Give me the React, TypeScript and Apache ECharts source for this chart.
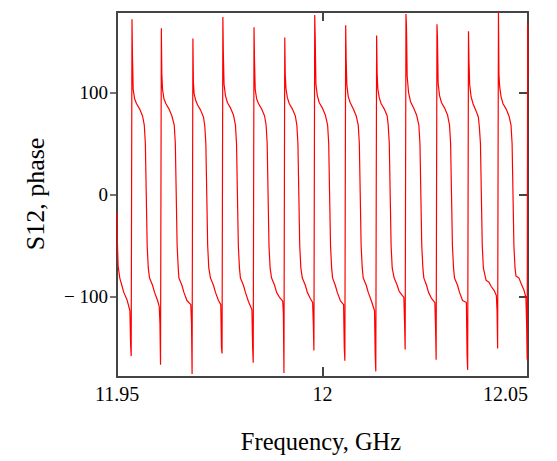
import React, { useEffect, useRef } from "react";
import * as echarts from "echarts";

// S12 phase vs frequency (GHz), period by period
const period0: number[][] = [
  [11.95, -18], [11.95012, -50], [11.95027, -70], [11.95068, -82], [11.95117, -89],
  [11.95165, -96], [11.9525, -104], [11.95314, -114], [11.95331, -147], [11.95345, -158.5],
];
const period1: number[][] = [
  [11.95365, 172], [11.95377, 134], [11.95394, 103], [11.95428, 94], [11.95476, 89],
  [11.95549, 84], [11.95622, 77], [11.95664, 68], [11.9569, 50], [11.95712, 0],
  [11.95734, -50], [11.95761, -72], [11.95792, -82], [11.95865, -89], [11.95914, -96],
  [11.95987, -104], [11.96028, -110], [11.96045, -126], [11.96059, -167],
];
const period2: number[][] = [
  [11.96079, 163], [11.96091, 118], [11.96108, 103], [11.96142, 94], [11.9619, 89],
  [11.96263, 84], [11.96336, 77], [11.96393, 68], [11.96419, 50], [11.96441, 0],
  [11.96463, -50], [11.9649, -72], [11.96506, -82], [11.96579, -89], [11.96628, -96],
  [11.96701, -104], [11.96796, -108], [11.96813, -126], [11.96827, -176],
];
const period3: number[][] = [
  [11.96847, 153], [11.96859, 110], [11.96876, 99], [11.9691, 93], [11.96958, 88],
  [11.97031, 83], [11.97104, 76], [11.97136, 67], [11.97162, 50], [11.97184, 0],
  [11.97206, -50], [11.97233, -72], [11.97274, -82], [11.97347, -89], [11.97396, -96],
  [11.97469, -104], [11.97525, -108], [11.97542, -150], [11.97556, -156],
];
const period4: number[][] = [
  [11.97576, 174], [11.97588, 137], [11.97605, 108], [11.97639, 97], [11.97687, 90],
  [11.9776, 85], [11.97833, 78], [11.97882, 68], [11.97908, 50], [11.9793, 0],
  [11.97952, -50], [11.97979, -72], [11.98003, -82], [11.98076, -89], [11.98125, -96],
  [11.98198, -105], [11.98283, -113], [11.983, -150], [11.98314, -165],
];
const period5: number[][] = [
  [11.98334, 164], [11.98346, 131], [11.98363, 103], [11.98397, 94], [11.98445, 89],
  [11.98518, 84], [11.98591, 77], [11.98628, 68], [11.98654, 50], [11.98676, 0],
  [11.98698, -50], [11.98725, -72], [11.98761, -82], [11.98834, -89], [11.98883, -96],
  [11.98956, -101], [11.99031, -104.5], [11.99048, -116], [11.99062, -175],
];
const period6: number[][] = [
  [11.99082, 154], [11.99094, 118], [11.99111, 104], [11.99145, 95], [11.99193, 89],
  [11.99266, 84], [11.99339, 77], [11.99376, 68], [11.99402, 50], [11.99424, 0],
  [11.99446, -50], [11.99473, -72], [11.99509, -82], [11.99582, -89], [11.99631, -96],
  [11.99704, -102], [11.9976, -106], [11.99777, -127], [11.99791, -153],
];
const period7: number[][] = [
  [11.99811, 176], [11.99823, 153], [11.9984, 108], [11.99874, 97], [11.99922, 90],
  [11.99995, 85], [12.00068, 78], [12.00125, 68], [12.00151, 50], [12.00173, 0],
  [12.00195, -50], [12.00222, -72], [12.00246, -82], [12.00311, -89], [12.0036, -96],
  [12.00433, -104], [12.00513, -108], [12.0053, -150], [12.00544, -163],
];
const period8: number[][] = [
  [12.00564, 166], [12.00576, 132], [12.00593, 107], [12.00627, 96], [12.00675, 90],
  [12.00748, 84], [12.00821, 77], [12.0087, 68], [12.00896, 50], [12.00918, 0],
  [12.0094, -50], [12.00967, -72], [12.00991, -82], [12.01064, -89], [12.01113, -96],
  [12.01186, -104], [12.01266, -114], [12.01283, -158], [12.01297, -173.5],
];
const period9: number[][] = [
  [12.01317, 156], [12.01329, 119], [12.01346, 104], [12.0138, 95], [12.01428, 89],
  [12.01501, 84], [12.01574, 77], [12.01599, 68], [12.01625, 50], [12.01647, 0],
  [12.01669, -50], [12.01696, -72], [12.01744, -82], [12.01817, -89], [12.01866, -95],
  [12.01939, -99], [12.0198, -101], [12.01997, -126], [12.02011, -152],
];
const period10: number[][] = [
  [12.02031, 177], [12.02043, 165], [12.0206, 116], [12.02094, 100], [12.02142, 91],
  [12.02215, 85], [12.02288, 78], [12.02345, 68], [12.02371, 50], [12.02393, 0],
  [12.02415, -50], [12.02442, -72], [12.02466, -82], [12.02531, -89], [12.0258, -96],
  [12.02653, -102], [12.02734, -106], [12.02751, -131], [12.02765, -162],
];
const period11: number[][] = [
  [12.02785, 167], [12.02797, 154], [12.02814, 109], [12.02848, 97], [12.02896, 90],
  [12.02969, 85], [12.03042, 78], [12.03091, 68], [12.03117, 50], [12.03139, 0],
  [12.03161, -50], [12.03188, -72], [12.03212, -82], [12.03285, -89], [12.03334, -96],
  [12.03407, -104], [12.03501, -106], [12.03518, -158], [12.03532, -172],
];
const period12: number[][] = [
  [12.03552, 160], [12.03564, 131], [12.03581, 108], [12.03615, 96], [12.03663, 89],
  [12.03736, 82], [12.03792, 76], [12.03817, 66], [12.03843, 50], [12.03865, 0],
  [12.03887, -50], [12.03914, -72], [12.03979, -84], [12.04052, -86], [12.04101, -90],
  [12.04174, -94], [12.0423, -99], [12.04247, -114], [12.04261, -151],
];
const period13: number[][] = [
  [12.04281, 179], [12.04293, 118], [12.0431, 106], [12.04344, 96], [12.04392, 89],
  [12.04465, 84], [12.04538, 77], [12.04587, 68], [12.04613, 50], [12.04635, 0],
  [12.04657, -50], [12.04684, -72], [12.04708, -80], [12.04781, -82], [12.0483, -87],
  [12.04903, -94], [12.04949, -101], [12.04966, -126], [12.0498, -162],
];
const period14: number[][] = [
  [12.04992, 168], [12.05, 117],
];

const xTickValues = [11.95, 12, 12.05];
const yTickValues = [-100, 0, 100];
const xTitle = "Frequency, GHz";
const yTitle = "S12, phase";

const serif = '"Liberation Serif", "Times New Roman", serif';
const axisColor = "#444444";

export default function App() {
  const ref = useRef<HTMLDivElement>(null);
  useEffect(() => {
    if (!ref.current) return;
    const chart = echarts.init(ref.current, undefined, { renderer: "svg" });
    const data = [
      ...period0, ...period1, ...period2, ...period3, ...period4, ...period5,
      ...period6, ...period7, ...period8, ...period9, ...period10, ...period11,
      ...period12, ...period13, ...period14,
    ];
    const xFmt = (v: number) => String(parseFloat(v.toFixed(2)));
    const yFmt = (v: number) => (v < 0 ? "\u2212 " + Math.abs(v) : String(v));
    const line = { show: true, onZero: false, lineStyle: { color: axisColor, width: 2 } };
    chart.setOption({
      animation: false,
      backgroundColor: "#ffffff",
      grid: { left: 117, right: 29, top: 12, bottom: 84, containLabel: false },
      xAxis: [
        {
          type: "value",
          position: "bottom",
          min: xTickValues[0],
          max: xTickValues[2],
          interval: 0.05,
          axisLine: line,
          axisTick: { show: true, inside: true, length: 10, customValues: xTickValues, lineStyle: { color: axisColor, width: 2 } },
          axisLabel: {
            show: true,
            customValues: xTickValues,
            formatter: xFmt,
            color: "#000",
            fontFamily: serif,
            fontSize: 20,
            margin: 7,
            alignMaxLabel: "right",
          },
          splitLine: { show: false },
        },
        {
          type: "value",
          position: "top",
          min: xTickValues[0],
          max: xTickValues[2],
          interval: 0.05,
          axisLine: line,
          axisTick: { show: true, inside: true, length: 9, customValues: xTickValues, lineStyle: { color: axisColor, width: 2 } },
          axisLabel: { show: false, customValues: xTickValues },
          splitLine: { show: false },
        },
      ],
      yAxis: [
        {
          type: "value",
          position: "left",
          min: -179,
          max: 179,
          axisLine: line,
          axisTick: { show: true, inside: false, length: 7, customValues: yTickValues, lineStyle: { color: axisColor, width: 1.5 } },
          axisLabel: {
            show: true,
            customValues: yTickValues,
            formatter: yFmt,
            color: "#000",
            fontFamily: serif,
            fontSize: 19,
            margin: 9,
          },
          splitLine: { show: false },
        },
        {
          type: "value",
          position: "right",
          min: -179,
          max: 179,
          axisLine: line,
          axisTick: { show: true, inside: true, length: 9, customValues: yTickValues, lineStyle: { color: axisColor, width: 2 } },
          axisLabel: { show: false, customValues: yTickValues },
          splitLine: { show: false },
        },
      ],
      graphic: [
        {
          type: "text",
          x: 321,
          y: 441,
          style: { text: xTitle, font: `24.5px ${serif}`, fill: "#000", align: "center", verticalAlign: "middle" },
        },
        {
          type: "text",
          x: 35,
          y: 194,
          rotation: Math.PI / 2,
          style: { text: yTitle, font: `26px ${serif}`, fill: "#000", align: "center", verticalAlign: "middle" },
        },
      ],
      series: [
        {
          type: "line",
          data,
          showSymbol: false,
          symbol: "none",
          lineStyle: { color: "#ff0000", width: 1.2 },
          xAxisIndex: 0,
          yAxisIndex: 0,
          clip: true,
        },
      ],
    });
    return () => chart.dispose();
  }, []);
  return (
    <div
      ref={ref}
      style={{ position: "absolute", left: 0, top: 0, width: 557, height: 461, background: "#fff" }}
    />
  );
}
